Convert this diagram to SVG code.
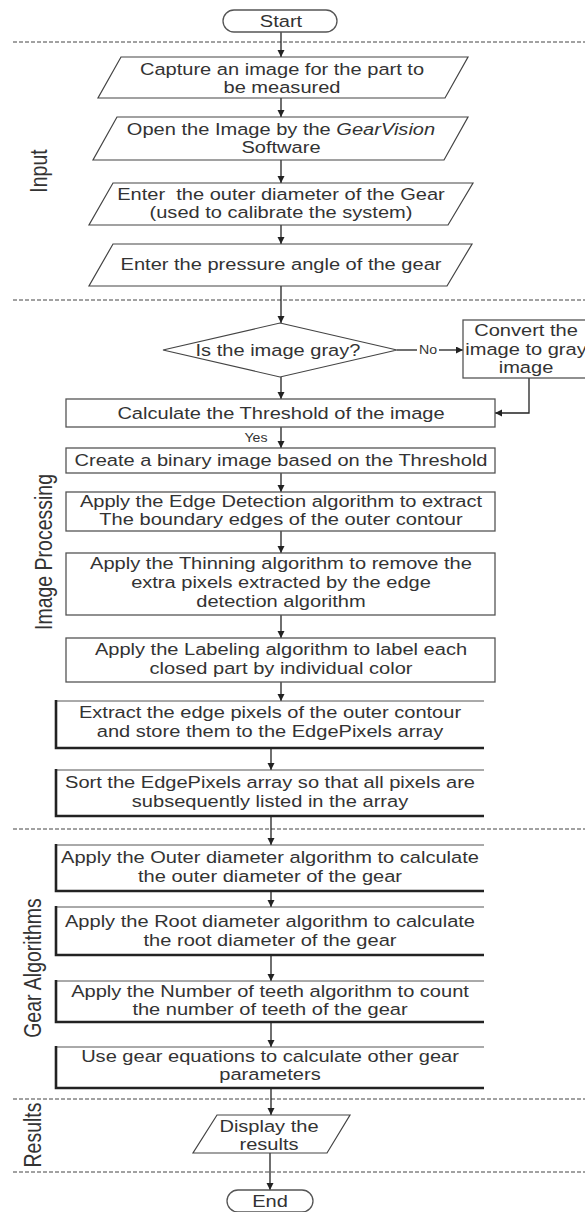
<svg xmlns="http://www.w3.org/2000/svg" width="585" height="1212" viewBox="0 0 585 1212">
<defs>
<marker id="ah" markerUnits="userSpaceOnUse" markerWidth="8" markerHeight="8" refX="7" refY="3.5" orient="auto">
<path d="M0,0 L7,3.5 L0,7 z" fill="#222"/>
</marker>
<style>
.t{font-family:"Liberation Sans",Arial,sans-serif;font-size:17px;fill:#333;text-anchor:middle}
.lab{font-family:"Liberation Sans",Arial,sans-serif;font-size:19.5px;fill:#333;text-anchor:middle}
.sm{font-family:"Liberation Sans",Arial,sans-serif;font-size:12px;fill:#333;text-anchor:middle}
.box{fill:#fff;stroke:#555;stroke-width:1.3}
.par{fill:#fff;stroke:#444;stroke-width:1.2}
.thin{fill:none;stroke:#555;stroke-width:1}
.thick{fill:none;stroke:#222;stroke-width:2.6}
.dash{stroke:#444;stroke-width:1;stroke-dasharray:4 2;fill:none}
.c{fill:none;stroke:#222;stroke-width:1.3}
.ca{fill:none;stroke:#222;stroke-width:1.3;marker-end:url(#ah)}
</style>
</defs>
<rect width="585" height="1212" fill="#fff"/>

<g id="separators">
<line class="dash" x1="13" y1="42" x2="585" y2="42"/>
<line class="dash" x1="13" y1="300" x2="585" y2="300"/>
<line class="dash" x1="13" y1="829" x2="585" y2="829"/>
<line class="dash" x1="13" y1="1099" x2="585" y2="1099"/>
<line class="dash" x1="13" y1="1172" x2="585" y2="1172"/>
</g>

<g id="section-labels">
<text class="lab" transform="translate(47 171) scale(1.18 1) rotate(-90)">Input</text>
<text class="lab" transform="translate(52 552) scale(1.18 1) rotate(-90)">Image Processing</text>
<text class="lab" transform="translate(41 968) scale(1.18 1) rotate(-90)">Gear Algorithms</text>
<text class="lab" transform="translate(41 1135) scale(1.18 1) rotate(-90)">Results</text>
</g>

<g id="connectors">
<line class="ca" x1="281" y1="32" x2="281" y2="57"/>
<line class="ca" x1="281" y1="98" x2="281" y2="117"/>
<line class="ca" x1="281" y1="160" x2="281" y2="183"/>
<line class="ca" x1="281" y1="225" x2="281" y2="244"/>
<line class="ca" x1="281" y1="286" x2="281" y2="323"/>
<line class="c" x1="397" y1="350" x2="417" y2="350"/>
<line class="ca" x1="439" y1="350" x2="463" y2="350"/>
<path class="ca" d="M529 378 V413 H495"/>
<line class="ca" x1="281" y1="377" x2="281" y2="399"/>
<line class="ca" x1="281" y1="427" x2="281" y2="448"/>
<line class="ca" x1="281" y1="473" x2="281" y2="492"/>
<line class="ca" x1="281" y1="531" x2="281" y2="553"/>
<line class="ca" x1="281" y1="615" x2="281" y2="638"/>
<line class="ca" x1="281" y1="682" x2="281" y2="701"/>
<line class="ca" x1="271" y1="747" x2="271" y2="770"/>
<line class="ca" x1="271" y1="816" x2="271" y2="845"/>
<line class="ca" x1="271" y1="891" x2="271" y2="907"/>
<line class="ca" x1="271" y1="955" x2="271" y2="981"/>
<line class="ca" x1="271" y1="1022" x2="271" y2="1047"/>
<line class="ca" x1="271" y1="1088" x2="271" y2="1115"/>
<line class="ca" x1="270" y1="1153" x2="270" y2="1190"/>
<g transform="translate(428 0) scale(1.18 1)"><text class="sm" x="0" y="354">No</text></g>
<g transform="translate(256 0) scale(1.18 1)"><text class="sm" x="0" y="442">Yes</text></g>
</g>

<g id="start">
<rect class="box" x="223" y="10" width="114" height="22" rx="11"/>
<g transform="translate(281 0) scale(1.18 1)"><text class="t" x="0" y="27">Start</text></g>
</g>

<g id="capture">
<polygon class="par" points="121,57 468,57 445,98 98,98"/>
<g transform="translate(282 0) scale(1.18 1)"><text class="t" x="0" y="75">Capture an image for the part to</text><text class="t" x="0" y="93">be measured</text></g>
</g>

<g id="open">
<polygon class="par" points="117,117 468,117 444,160 93,160"/>
<g transform="translate(281 0) scale(1.18 1)"><text class="t" x="0" y="135">Open the Image by the <tspan font-style="italic">GearVision</tspan></text><text class="t" x="0" y="153">Software</text></g>
</g>

<g id="outer-input">
<polygon class="par" points="113,183 473,183 448,225 89,225"/>
<g transform="translate(281 0) scale(1.18 1)"><text class="t" x="0" y="200" xml:space="preserve">Enter  the outer diameter of the Gear</text><text class="t" x="0" y="218">(used to calibrate the system)</text></g>
</g>

<g id="pressure">
<polygon class="par" points="113,244 472,244 447,286 89,286"/>
<g transform="translate(281 0) scale(1.18 1)"><text class="t" x="0" y="270">Enter the pressure angle of the gear</text></g>
</g>

<g id="gray-check">
<polygon class="par" points="280,323 397,350 280,377 163,350"/>
<g transform="translate(278 0) scale(1.18 1)"><text class="t" x="0" y="356">Is the image gray?</text></g>
</g>

<g id="convert">
<rect class="box" x="463" y="320" width="130" height="58"/>
<g transform="translate(526 0) scale(1.18 1)"><text class="t" x="0" y="336">Convert the</text><text class="t" x="0" y="355">image to gray</text><text class="t" x="0" y="373">image</text></g>
</g>

<g id="threshold">
<rect class="box" x="66" y="399" width="429" height="28"/>
<g transform="translate(281 0) scale(1.18 1)"><text class="t" x="0" y="419">Calculate the Threshold of the image</text></g>
</g>

<g id="binary">
<rect class="box" x="66" y="448" width="429" height="25"/>
<g transform="translate(281 0) scale(1.18 1)"><text class="t" x="0" y="466">Create a binary image based on the Threshold</text></g>
</g>

<g id="edge">
<rect class="box" x="66" y="492" width="429" height="39"/>
<g transform="translate(281 0) scale(1.18 1)"><text class="t" x="0" y="507">Apply the Edge Detection algorithm to extract</text><text class="t" x="0" y="525">The boundary edges of the outer contour</text></g>
</g>

<g id="thinning">
<rect class="box" x="66" y="553" width="429" height="62"/>
<g transform="translate(281 0) scale(1.18 1)"><text class="t" x="0" y="569">Apply the Thinning algorithm to remove the</text><text class="t" x="0" y="588">extra pixels extracted by the edge</text><text class="t" x="0" y="607">detection algorithm</text></g>
</g>

<g id="labeling">
<rect class="box" x="66" y="638" width="429" height="44"/>
<g transform="translate(281 0) scale(1.18 1)"><text class="t" x="0" y="655">Apply the Labeling algorithm to label each</text><text class="t" x="0" y="674">closed part by individual color</text></g>
</g>

<g id="extract">
<rect x="56" y="701" width="428" height="46" fill="#fff"/>
<path class="thin" d="M56 701 H484"/><path class="thick" d="M56 700 V748 H484"/>
<g transform="translate(270 0) scale(1.18 1)"><text class="t" x="0" y="718">Extract the edge pixels of the outer contour</text><text class="t" x="0" y="737">and store them to the EdgePixels array</text></g>
</g>

<g id="sort">
<rect x="56" y="770" width="428" height="46" fill="#fff"/>
<path class="thin" d="M56 770 H484"/><path class="thick" d="M56 769 V816 H484"/>
<g transform="translate(270 0) scale(1.18 1)"><text class="t" x="0" y="788">Sort the EdgePixels array so that all pixels are</text><text class="t" x="0" y="807">subsequently listed in the array</text></g>
</g>

<g id="outer-diameter">
<rect x="56" y="845" width="428" height="46" fill="#fff"/>
<path class="thin" d="M56 845 H484"/><path class="thick" d="M56 844 V891 H484"/>
<g transform="translate(270 0) scale(1.18 1)"><text class="t" x="0" y="863">Apply the Outer diameter algorithm to calculate</text><text class="t" x="0" y="882">the outer diameter of the gear</text></g>
</g>

<g id="root-diameter">
<rect x="56" y="907" width="428" height="48" fill="#fff"/>
<path class="thin" d="M56 907 H484"/><path class="thick" d="M56 906 V955 H484"/>
<g transform="translate(270 0) scale(1.18 1)"><text class="t" x="0" y="927">Apply the Root diameter algorithm to calculate</text><text class="t" x="0" y="946">the root diameter of the gear</text></g>
</g>

<g id="teeth">
<rect x="56" y="981" width="428" height="41" fill="#fff"/>
<path class="thin" d="M56 981 H484"/><path class="thick" d="M56 980 V1022 H484"/>
<g transform="translate(270 0) scale(1.18 1)"><text class="t" x="0" y="997">Apply the Number of teeth algorithm to count</text><text class="t" x="0" y="1015">the number of teeth of the gear</text></g>
</g>

<g id="equations">
<rect x="56" y="1047" width="428" height="41" fill="#fff"/>
<path class="thin" d="M56 1047 H484"/><path class="thick" d="M56 1046 V1088 H484"/>
<g transform="translate(270 0) scale(1.18 1)"><text class="t" x="0" y="1062">Use gear equations to calculate other gear</text><text class="t" x="0" y="1080">parameters</text></g>
</g>

<g id="display">
<polygon class="par" points="217,1115 350,1115 327,1153 193,1153"/>
<g transform="translate(269 0) scale(1.18 1)"><text class="t" x="0" y="1132">Display the</text><text class="t" x="0" y="1150">results</text></g>
</g>

<g id="end">
<rect class="box" x="227" y="1190" width="86" height="22" rx="11"/>
<g transform="translate(270 0) scale(1.18 1)"><text class="t" x="0" y="1207">End</text></g>
</g>
</svg>
